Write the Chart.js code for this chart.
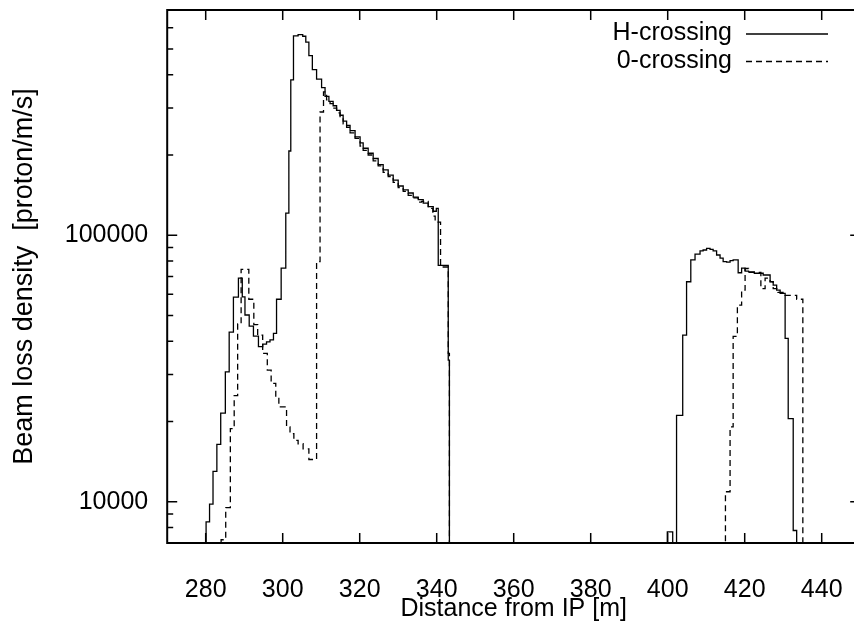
<!DOCTYPE html>
<html>
<head>
<meta charset="utf-8">
<script src="https://cdn.jsdelivr.net/npm/chart.js@4.4.0/dist/chart.umd.min.js"></script>
<style>
  html, body { margin: 0; padding: 0; background: #fff; overflow: hidden; }
  canvas { display: block; }
</style>
</head>
<body>
<canvas id="chartLoss" width="870" height="630"></canvas>
<script>
// bin edges [m] and beam loss density [proton/m/s]
// a value of 1 means no loss (drawn below the bottom of the plot)
const hEdges = [278.0, 280.1, 281.0, 281.9, 282.9, 283.9, 285.1, 286.1, 287.2, 288.5,
    289.5, 290.2, 291.3, 292.4, 293.7, 294.8, 295.8, 296.7, 297.6, 298.4,
    299.6, 300.8, 301.6, 302.1, 302.8, 304.0, 305.2, 306.0, 306.8, 307.7,
    308.8, 310.1, 311.0, 312.0, 313.1, 314.0, 314.9, 315.7, 316.6, 317.5,
    318.8, 320.1, 320.9, 322.2, 323.5, 324.8, 326.1, 327.4, 328.7, 330.0,
    331.3, 332.6, 333.9, 335.2, 336.5, 337.8, 339.1, 339.9, 340.4, 343.0,
    343.3, 399.9, 401.3, 402.3, 403.9, 404.9, 406.0, 407.1, 408.4, 409.2,
    410.1, 411.0, 411.8, 412.7, 413.6, 414.4, 415.3, 416.2, 417.0, 418.3,
    419.2, 420.1, 421.0, 422.5, 424.8, 426.6, 427.4, 428.3, 429.2, 430.5,
    431.3, 432.6, 433.5, 440.0];
const hValues = [1, 8400, 9800, 13000, 16400, 21500, 30700, 43300, 58600, 69000,
    58700, 50200, 45600, 41800, 38200, 39000, 39800, 40500, 42800, 57500,
    75200, 121000, 207000, 383000, 560000, 566000, 558000, 530000, 472000, 418000,
    385000, 358000, 332000, 318000, 306000, 294000, 282000, 268000, 258000, 247000,
    234000, 222000, 212000, 203000, 194000, 184000, 176000, 168000, 161000, 153000,
    148000, 144000, 139000, 136000, 132000, 128000, 123000, 126000, 77000, 34000,
    1, 7700, 1, 21100, 42200, 66900, 80800, 85000, 87400, 88000,
    89300, 88500, 87400, 84300, 82000, 79600, 79200, 80300, 80800, 72300,
    75200, 73300, 72900, 72000, 70900, 66900, 65000, 62200, 60500, 41000,
    20500, 7800, 1, 1];

const zEdges = [280.0, 284.0, 285.2, 286.4, 287.4, 288.3, 289.2, 291.2, 292.5, 293.5,
    294.8, 296.0, 297.0, 298.2, 299.0, 301.0, 301.9, 302.9, 304.0, 305.3,
    306.8, 308.8, 309.7, 310.6, 311.4, 312.3, 313.1, 314.0, 314.9, 315.7,
    316.6, 317.5, 318.8, 320.1, 320.9, 322.2, 323.5, 324.8, 326.1, 327.4,
    328.7, 330.0, 331.3, 332.6, 333.9, 335.2, 336.1, 337.8, 339.0, 339.6,
    341.0, 343.0, 343.3, 415.0, 416.2, 417.0, 418.1, 419.2, 420.1, 421.0,
    424.2, 425.3, 426.6, 427.4, 428.6, 430.5, 433.5, 435.1, 440.0];
const zValues = [1, 7200, 9500, 18800, 25000, 46500, 74500, 57500, 46200, 42200,
    36000, 31200, 27800, 24600, 22700, 19100, 18000, 17000, 16500, 15800,
    14400, 79600, 290000, 345000, 322000, 312000, 300000, 288000, 276000, 262000,
    254000, 242000, 231000, 216000, 208000, 200000, 190000, 182000, 172000, 166000,
    158000, 151000, 146000, 141000, 138000, 133000, 134000, 126000, 118000, 112000,
    76000, 36000, 1, 10900, 19100, 41700, 54700, 62200, 75000, 72500,
    63000, 69000, 67000, 63000, 61000, 59500, 57500, 1, 1];

const xTicks = [280, 300, 320, 340, 360, 380, 400, 420, 440];
const yTicks = [10000, 100000];
const yMinorTicks = [8000, 9000, 20000, 30000, 40000, 50000, 60000, 70000, 80000, 90000,
    200000, 300000, 400000, 500000, 600000];
const seriesNames = ['H-crossing', '0-crossing'];

const FAMILY = '"Liberation Sans", Arial, Helvetica, sans-serif';
const FONT = { family: FAMILY, size: 25 };

// gnuplot style frame with inward ticks and a key in the top right corner
const gnuplotFrame = {
    id: 'gnuplotFrame',
    afterDatasetsDraw(chart) {
        const { ctx, chartArea: a, scales: { x, y } } = chart;
        ctx.save();
        ctx.strokeStyle = '#000';
        ctx.lineWidth = 1.5;
        ctx.beginPath();
        xTicks.forEach(v => {
            const px = x.getPixelForValue(v);
            ctx.moveTo(px, a.bottom); ctx.lineTo(px, a.bottom - 10);
            ctx.moveTo(px, a.top); ctx.lineTo(px, a.top + 10);
        });
        yTicks.forEach(v => {
            const py = y.getPixelForValue(v);
            ctx.moveTo(a.left, py); ctx.lineTo(a.left + 10, py);
            ctx.moveTo(a.right, py); ctx.lineTo(a.right - 10, py);
        });
        yMinorTicks.forEach(v => {
            const py = y.getPixelForValue(v);
            ctx.moveTo(a.left, py); ctx.lineTo(a.left + 6, py);
            ctx.moveTo(a.right, py); ctx.lineTo(a.right - 6, py);
        });
        ctx.stroke();

        ctx.lineWidth = 2;
        ctx.strokeRect(a.left, a.top, a.right - a.left, a.bottom - a.top);

        // key
        ctx.font = FONT.size + 'px ' + FAMILY;
        ctx.fillStyle = '#000';
        ctx.textAlign = 'right';
        ctx.textBaseline = 'alphabetic';
        chart.data.datasets.forEach((ds, i) => {
            const ly = 34 + i * 27.5;
            ctx.fillText(seriesNames[i], 732, ly + 6);
            ctx.lineWidth = ds.borderWidth;
            ctx.setLineDash(ds.borderDash || []);
            ctx.beginPath();
            ctx.moveTo(746, ly);
            ctx.lineTo(828, ly);
            ctx.stroke();
        });
        ctx.restore();
    }
};

const toPoints = (xs, ys) => xs.map((v, i) => ({ x: v, y: ys[i] }));

const ctxLoss = document.getElementById('chartLoss');
const chartLoss = new Chart(ctxLoss, {
    type: 'line',
    data: {
        datasets: [{
            label: seriesNames[0],
            data: toPoints(hEdges, hValues),
            borderColor: '#000',
            borderWidth: 1.3,
            stepped: 'before',
            pointRadius: 0,
            fill: false
        }, {
            label: seriesNames[1],
            data: toPoints(zEdges, zValues),
            borderColor: '#000',
            borderWidth: 1.3,
            borderDash: [6, 4],
            stepped: 'before',
            pointRadius: 0,
            fill: false
        }]
    },
    options: {
        responsive: false,
        animation: false,
        events: [],
        layout: { padding: { left: 0, right: 9.8, top: 10, bottom: 0 } },
        plugins: {
            legend: { display: false },
            tooltip: { enabled: false }
        },
        scales: {
            x: {
                type: 'linear',
                min: 270,
                max: 450,
                afterBuildTicks: axis => { axis.ticks = xTicks.map(v => ({ value: v })); },
                afterFit: axis => {
                    axis.height = 87;
                    axis.paddingLeft = 0;
                    axis.paddingRight = 0;
                },
                grid: { display: false, drawTicks: false },
                border: { display: false },
                ticks: { font: FONT, color: '#000', padding: 32, autoSkip: false, maxRotation: 0 },
                title: {
                    display: true,
                    text: 'Distance from IP [m]',
                    font: FONT,
                    color: '#000',
                    padding: { top: 0, bottom: 6 }
                }
            },
            y: {
                type: 'logarithmic',
                min: 7000,
                max: 700000,
                afterBuildTicks: axis => { axis.ticks = yTicks.map(v => ({ value: v })); },
                afterFit: axis => {
                    axis.width = 167.2;
                    axis.paddingTop = 0;
                    axis.paddingBottom = 0;
                },
                grid: { display: false, drawTicks: false },
                border: { display: false },
                ticks: { font: FONT, color: '#000', padding: 19, callback: v => String(v) },
                title: {
                    display: true,
                    text: 'Beam loss density  [proton/m/s]',
                    font: { family: FAMILY, size: 27 },
                    color: '#000',
                    padding: { top: 8, bottom: 0 }
                }
            }
        }
    },
    plugins: [gnuplotFrame]
});
</script>
</body>
</html>
